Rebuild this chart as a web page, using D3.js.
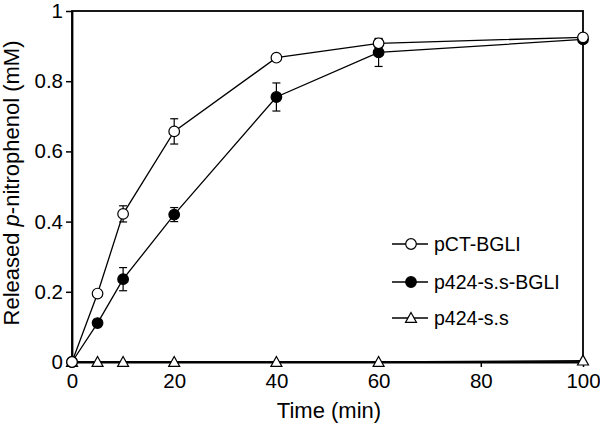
<!DOCTYPE html>
<html><head><meta charset="utf-8">
<script src="https://cdn.jsdelivr.net/npm/d3@7"></script>
<style>body{margin:0;background:#fff}svg{display:block}text{font-family:"Liberation Sans",Arial,sans-serif;fill:#000}</style>
</head><body><svg id="c" width="600" height="423"></svg>
<script>
const times = [0, 5, 10, 20, 40, 60, 100];
const pctVals = [0, 0.195, 0.422, 0.657, 0.867, 0.908, 0.925];
const pctErr = [0, 0.005, 0.023, 0.036, 0.01, 0.012, 0.005];
const bglVals = [0, 0.111, 0.236, 0.42, 0.755, 0.882, 0.919];
const bglErr = [0, 0.005, 0.033, 0.02, 0.04, 0.04, 0.005];
const ssVals = [0, 0, 0, 0, 0, 0, 0.004];
const xTicks = [0, 20, 40, 60, 80, 100];
const yTicks = [0, 0.2, 0.4, 0.6, 0.8, 1];
const seriesNames = ["pCT-BGLI", "p424-s.s-BGLI", "p424-s.s"];

const svg = d3.select("#c");
const x = d3.scaleLinear().domain([0, 100]).range([72, 583]);
const y = d3.scaleLinear().domain([0, 1]).range([362, 11]);

svg.append("rect").attr("x", 72).attr("y", 11).attr("width", 511).attr("height", 351)
  .attr("fill", "none").attr("stroke", "#000").attr("stroke-width", 1.8);

const xa = svg.append("g").attr("transform", "translate(0,362)")
  .call(d3.axisBottom(x).tickValues(xTicks).tickSize(5).tickSizeOuter(0).tickPadding(5).tickFormat(d3.format("d")));
const ya = svg.append("g").attr("transform", "translate(72,0)")
  .call(d3.axisLeft(y).tickValues(yTicks).tickSize(6).tickSizeOuter(0).tickPadding(3).tickFormat(d => d === 0 ? "0" : d === 1 ? "1" : d3.format(".1f")(d)));
[xa, ya].forEach(a => {
  a.select(".domain").attr("stroke-width", 1.8);
  a.selectAll(".tick line").attr("stroke-width", 1.5);
  a.selectAll("text").attr("font-size", 20.5).attr("font-family", '"Liberation Sans",Arial,sans-serif');
});
xa.selectAll("text").attr("dy", null).attr("y", 26);

svg.append("text").attr("x", 329).attr("y", 418).attr("text-anchor", "middle").attr("font-size", 22).text("Time (min)");
const yl = svg.append("text").attr("transform", "translate(19,183) rotate(-90)").attr("text-anchor", "middle").attr("font-size", 22);
yl.append("tspan").text("Released ");
yl.append("tspan").attr("font-style", "italic").text("p");
yl.append("tspan").text("-nitrophenol (mM)");

const line = d3.line().x(d => x(d[0])).y(d => y(d[1]));
function drawSeries(vals, errs, kind) {
  const pts = times.map((t, i) => [t, vals[i], errs ? errs[i] : 0]);
  svg.append("path").datum(pts).attr("d", line).attr("fill", "none").attr("stroke", "#000").attr("stroke-width", 1.3);
  if (errs) {
    pts.forEach(p => {
      if (p[2] < 0.012) return;
      const g = svg.append("g").attr("stroke", "#000").attr("stroke-width", 1.2);
      g.append("line").attr("x1", x(p[0])).attr("x2", x(p[0])).attr("y1", y(p[1] - p[2])).attr("y2", y(p[1] + p[2]));
      [p[1] - p[2], p[1] + p[2]].forEach(v => g.append("line").attr("x1", x(p[0]) - 4).attr("x2", x(p[0]) + 4).attr("y1", y(v)).attr("y2", y(v)));
    });
  }
  pts.forEach(p => drawMarker(x(p[0]), y(p[1]), kind));
}
function drawMarker(cx, cy, kind) {
  if (kind === "tri") {
    const s = 5.5;
    svg.append("path").attr("d", `M${cx},${cy - s}L${cx + s},${cy + s * 0.8}L${cx - s},${cy + s * 0.8}Z`)
      .attr("fill", "#fff").attr("stroke", "#000").attr("stroke-width", 1.2);
  } else {
    svg.append("circle").attr("cx", cx).attr("cy", cy).attr("r", 5.3)
      .attr("fill", kind === "open" ? "#fff" : "#000").attr("stroke", "#000").attr("stroke-width", 1.2);
  }
}
drawSeries(ssVals, null, "tri");
drawSeries(bglVals, bglErr, "filled");
drawSeries(pctVals, pctErr, "open");

const legY = [244, 282, 318];
const kinds = ["open", "filled", "tri"];
seriesNames.forEach((n, i) => {
  svg.append("line").attr("x1", 392).attr("x2", 428).attr("y1", legY[i]).attr("y2", legY[i]).attr("stroke", "#000").attr("stroke-width", 1.3);
  drawMarker(411, legY[i], kinds[i]);
  svg.append("text").attr("x", 434).attr("y", legY[i] + 7).attr("font-size", 19.5).text(n);
});
</script></body></html>
